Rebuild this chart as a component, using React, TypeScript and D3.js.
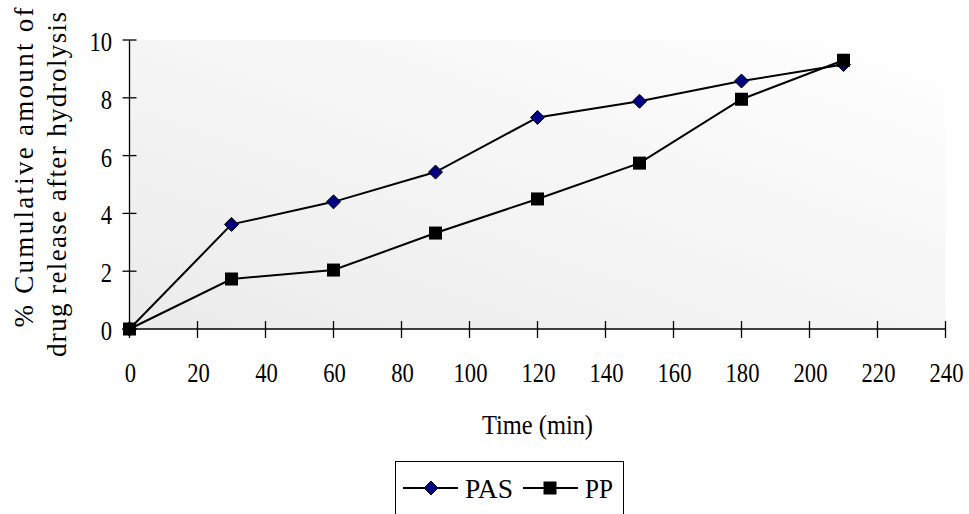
import React from 'react';
import * as d3 from 'd3';

const times = [0, 30, 60, 90, 120, 150, 180, 210];
const pasValues = [0, 3.62, 4.4, 5.43, 7.32, 7.88, 8.58, 9.15];
const ppValues = [0, 1.73, 2.04, 3.32, 4.5, 5.74, 7.95, 9.3];
const xTicks = [0, 20, 40, 60, 80, 100, 120, 140, 160, 180, 200, 220, 240];
const yTicks = [0, 2, 4, 6, 8, 10];
const yTitle = ['% Cumulative amount of', 'drug release after hydrolysis'];
const xTitle = 'Time (min)';
const seriesNames = ['PAS', 'PP'];

const W = 969;
const H = 514;
const font = "'Liberation Serif', 'Times New Roman', Times, 'DejaVu Serif', serif";

const App = () => {
  const x = d3.scaleLinear().domain([0, 240]).range([129.5, 945.5]);
  const y = d3.scaleLinear().domain([0, 10]).range([329, 40]);

  const line = d3.line<number>()
    .x((_, i) => x(times[i]))
    .y((d) => y(d));

  const diamond = (cx: number, cy: number, r: number) =>
    `M${cx},${cy - r}L${cx + r},${cy}L${cx},${cy + r}L${cx - r},${cy}Z`;

  // narrow digits like the original
  const numLen = (t: number) => String(t).length * 11.3;

  return (
    <svg width={W} height={H}
      style={{ position: 'absolute', left: 0, top: 0, background: '#fff', fontFamily: font }}>
      <defs>
        <linearGradient id="bg" x1="0" y1="1" x2="1" y2="0">
          <stop offset="0" stopColor="#ebebeb" />
          <stop offset="1" stopColor="#ffffff" />
        </linearGradient>
      </defs>
      <rect x={x(0)} y={y(10)} width={x(240) - x(0)} height={y(0) - y(10)} fill="url(#bg)" />

      {/* axes */}
      <line x1={x(0)} x2={x(0)} y1={y(10)} y2={y(0)} stroke="#000" strokeWidth={1.3} />
      <line x1={x(0)} x2={x(240)} y1={y(0)} y2={y(0)} stroke="#000" strokeWidth={1.3} />
      {yTicks.map((t) => (
        <g key={'y' + t}>
          <line x1={x(0) - 7} x2={x(0) + 7} y1={y(t)} y2={y(t)} stroke="#000" strokeWidth={1.3} />
          <text x={112} y={y(t) + 11} textAnchor="end" fontSize={27}
            textLength={numLen(t)} lengthAdjust="spacingAndGlyphs">{t}</text>
        </g>
      ))}
      {xTicks.map((t) => (
        <g key={'x' + t}>
          <line x1={x(t)} x2={x(t)} y1={y(0) - 8} y2={y(0) + 9} stroke="#000" strokeWidth={1.3} />
          <text x={x(t) + 1} y={382} textAnchor="middle" fontSize={27}
            textLength={numLen(t)} lengthAdjust="spacingAndGlyphs">{t}</text>
        </g>
      ))}

      <text x={537.5} y={434} textAnchor="middle" fontSize={27}
        textLength={111} lengthAdjust="spacingAndGlyphs">{xTitle}</text>
      <text transform="translate(33,167.5) rotate(-90)" textAnchor="middle" fontSize={27}
        textLength={320} lengthAdjust="spacing">{yTitle[0]}</text>
      <text transform="translate(66,184.5) rotate(-90)" textAnchor="middle" fontSize={27}
        textLength={345} lengthAdjust="spacing">{yTitle[1]}</text>

      {/* series */}
      <path d={line(pasValues) || ''} fill="none" stroke="#000" strokeWidth={2} />
      <path d={line(ppValues) || ''} fill="none" stroke="#000" strokeWidth={2} />
      {pasValues.map((v, i) => (
        <path key={'pas' + i} d={diamond(x(times[i]), y(v), 7)} fill="#000080" stroke="#000" strokeWidth={1} />
      ))}
      {ppValues.map((v, i) => (
        <rect key={'pp' + i} x={x(times[i]) - 6.5} y={y(v) - 6.5} width={13} height={13} fill="#000" />
      ))}

      {/* legend */}
      <rect x={395.5} y={461.5} width={228} height={60} fill="#fff" stroke="#000" strokeWidth={1} />
      <line x1={403} x2={458} y1={488} y2={488} stroke="#000" strokeWidth={2} />
      <path d={diamond(431, 488, 7)} fill="#000080" stroke="#000" strokeWidth={1} />
      <text x={465} y={498} fontSize={27} textLength={48} lengthAdjust="spacingAndGlyphs">{seriesNames[0]}</text>
      <line x1={523} x2={578} y1={488} y2={488} stroke="#000" strokeWidth={2} />
      <rect x={543.5} y={481.5} width={13} height={13} fill="#000" />
      <text x={585} y={498} fontSize={27} textLength={28} lengthAdjust="spacingAndGlyphs">{seriesNames[1]}</text>
    </svg>
  );
};

export default App;
